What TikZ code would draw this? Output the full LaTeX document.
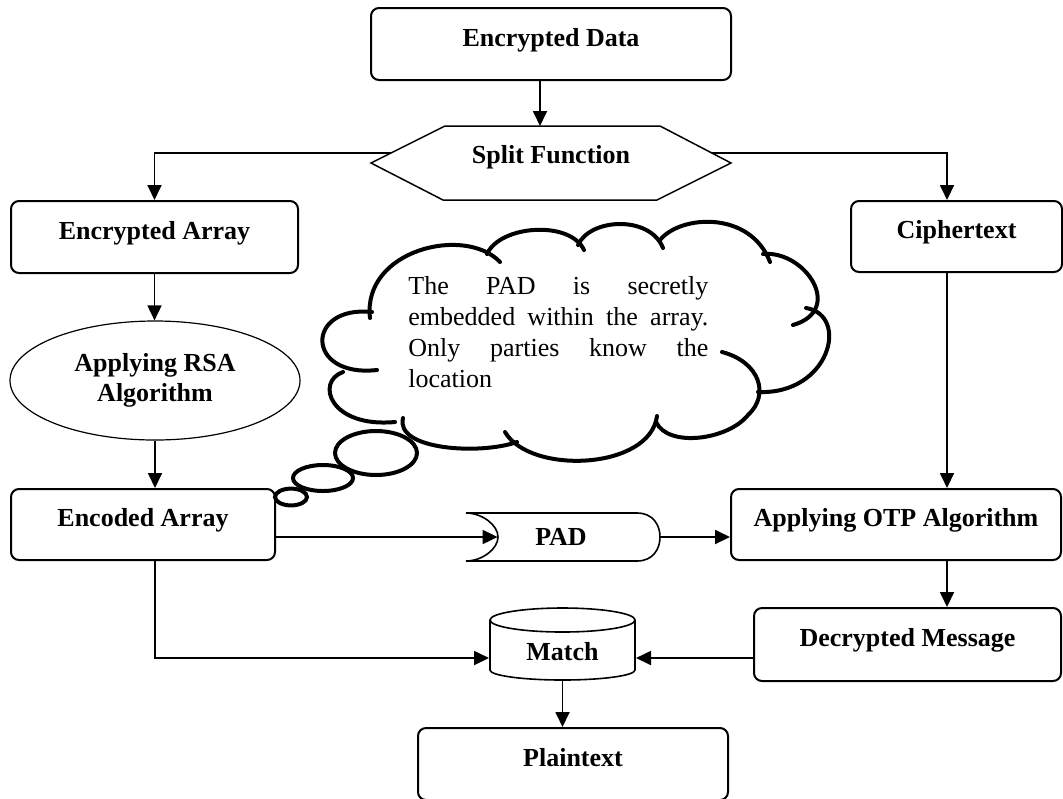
\documentclass[tikz,border=0pt]{standalone}
\usepackage{fontspec}
\setmainfont{Liberation Serif}
\usetikzlibrary{arrows.meta,shapes.geometric,calc}
\begin{document}
\begin{tikzpicture}[x=0.5pt,y=-0.5pt,
  font=\fontsize{13}{15.5}\selectfont,
  box/.style={draw, rounded corners=4pt, line width=1pt, inner sep=0pt,
    font=\fontsize{13}{15.5}\selectfont\bfseries, text height=9pt, text depth=7pt},
  lbl/.style={inner sep=0pt, font=\fontsize{13}{15.5}\selectfont\bfseries},
  arr/.style={line width=0.9pt, -{Triangle[length=7.5pt,width=7pt]}},
  cloudline/.style={line width=2pt, line cap=round},
  thinshape/.style={line width=0.75pt},
]
\useasboundingbox (0,0) rectangle (1063,798);

% boxes
\node[box, minimum width=180pt, minimum height=36pt] (encdata) at (551,44) {Encrypted Data};
\node[box, minimum width=143.5pt, minimum height=36pt] (encarr) at (154.5,237) {Encrypted Array};
\node[box, minimum width=105.5pt, minimum height=35.5pt] (cipher) at (956.5,236.5) {Ciphertext};
\node[draw, ellipse, line width=0.6pt, minimum width=145pt, minimum height=59.5pt, inner sep=0pt,
  align=center, font=\fontsize{13}{15}\selectfont\bfseries] (rsa) at (155,380.5) {Applying RSA\\Algorithm};
\node[box, minimum width=132pt, minimum height=35.5pt] (encoded) at (143,524.5) {Encoded Array};
\node[box, minimum width=165pt, minimum height=35.5pt] (otp) at (896,524.5) {Applying OTP Algorithm};
\node[box, minimum width=153.5pt, minimum height=36.5pt] (dm) at (907.5,644.5) {Decrypted Message};
\node[box, minimum width=155pt, minimum height=36pt] (plain) at (573,764) {Plaintext};

% split function hexagon
\draw[thinshape] (371,163) -- (445,126) -- (660,126) -- (731,163) -- (657,200) -- (443,200) -- cycle;
\node[lbl, text height=9pt, text depth=7pt] (split) at (551,161) {Split Function};
\coordinate (htop) at (540,126);
\coordinate (hl) at (391,153);
\coordinate (hr) at (712,153);

% PAD shape
\draw[line width=0.8pt] (466,513) -- (637,513) .. controls (653,513) and (660,525) .. (660,537)
  .. controls (660,549) and (653,561) .. (637,561) -- (466,561)
  .. controls (482,561) and (498,549) .. (498,537) .. controls (498,525) and (482,513) .. (466,513) -- cycle;
\node[inner sep=0pt, minimum width=81pt, minimum height=24pt] (pad) at (579,537) {};
\node[lbl] (padlabel) at (561,537) {PAD};

% Match cylinder
\node[box, draw=none, minimum width=72.5pt, minimum height=22pt] (match) at (562.5,658) {Match};
\draw[line width=0.8pt] (562.5,620) ellipse [x radius=36.25pt, y radius=6pt];
\draw[line width=0.8pt] (490,620) -- (490,670) arc [start angle=180, end angle=360, x radius=36.25pt, y radius=5pt] -- (635,620);

% cloud callout
\begin{scope}[cloudline]
\draw (370,318) .. controls (362,250) and (465,225) .. (500,262);
\draw (487,254) .. controls (500,225) and (570,220) .. (584,250);
\draw (578,245) .. controls (590,218) and (650,215) .. (663,248);
\draw (660,240) .. controls (680,215) and (750,210) .. (770,262);
\draw (763,254) .. controls (805,250) and (845,310) .. (793,325);
\draw (806,308) .. controls (850,315) and (830,395) .. (758,392);
\draw (722,352) .. controls (760,362) and (770,395) .. (748,415) .. controls (728,440) and (668,448) .. (656,422);
\draw (657,416) .. controls (650,470) and (530,475) .. (505,432);
\draw (517,442) .. controls (480,455) and (395,450) .. (403,418);
\draw (395,422) .. controls (330,428) and (315,382) .. (343,372);
\draw (377,370) .. controls (305,378) and (305,305) .. (372,312);
\draw (376,453) ellipse [x radius=20.5pt, y radius=11pt];
\draw (323,478) ellipse [x radius=15pt, y radius=6.5pt];
\draw (291,497) ellipse [x radius=8pt, y radius=4.2pt];
\end{scope}
\node[anchor=north west, inner sep=0pt, align=left, font=\fontsize{13}{15.5}\selectfont] (note) at (408,276)
  {\makebox[150pt][s]{The PAD is secretly}\\
   \makebox[150pt][s]{embedded within the array.}\\
   \makebox[150pt][s]{Only parties know the}\\
   location};

% connectors
\coordinate (cx) at (947,0);
\draw[arr] (encdata.south -| htop) -- (htop);
\draw[arr] (hl) -| (encarr.north);
\draw[arr] (hr) -| (cx |- cipher.north);
\draw[arr] (cx |- cipher.south) -- (cx |- otp.north);
\draw[arr] (cx |- otp.south) -- (cx |- dm.north);
\draw[arr] (encarr.south) -- (encarr.south |- rsa.north);
\draw[arr] (rsa.south) -- (rsa.south |- encoded.north);
\draw[arr] (encoded.east |- pad.west) -- (pad.west);
\draw[arr] (pad.east) -- (pad.east -| otp.west);
\draw[arr] (rsa.south |- encoded.south) |- (match.west);
\draw[arr] (dm.west |- match.east) -- (match.east);
\draw[arr] (match.south) -- (match.south |- plain.north);
\end{tikzpicture}
\end{document}
